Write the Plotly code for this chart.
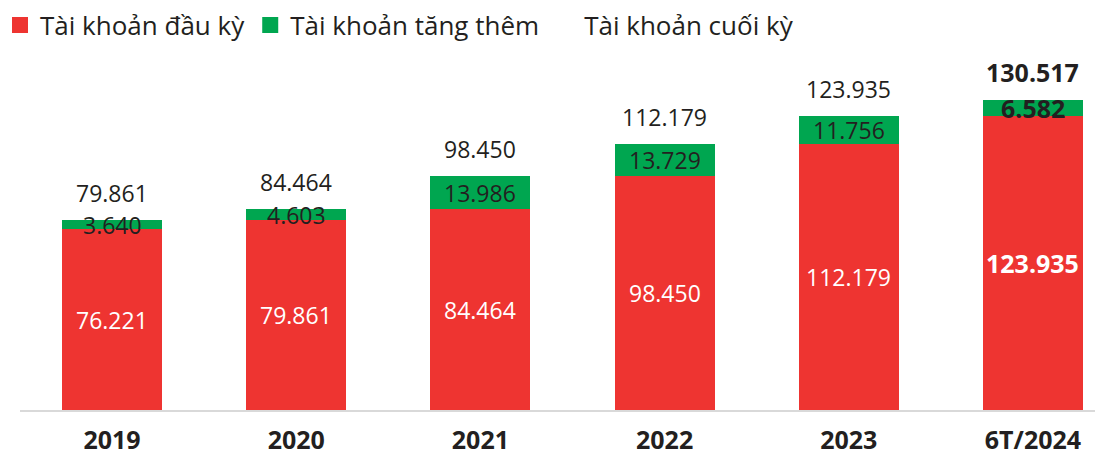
import plotly.graph_objects as go

categories = ["2019", "2020", "2021", "2022", "2023", "6T/2024"]
opening = [76221, 79861, 84464, 98450, 112179, 123935]
added = [3640, 4603, 13986, 13729, 11756, 6582]
closing = [79861, 84464, 98450, 112179, 123935, 130517]
bold_flags = [False, False, False, False, False, True]

RED = "#EE3431"
GREEN = "#00A650"
DARK = "#231F20"
FONT = "Open Sans"


def fmt(v):
    return f"{v:,}".replace(",", ".")


fig = go.Figure()
fig.add_trace(go.Bar(x=categories, y=opening, marker=dict(color=RED, line=dict(width=0)),
                     width=0.543, showlegend=False, hoverinfo="skip"))
fig.add_trace(go.Bar(x=categories, y=added, marker=dict(color=GREEN, line=dict(width=0)),
                     width=0.543, showlegend=False, hoverinfo="skip"))

# legend entries
for name, col in [("Tài khoản đầu kỳ", RED), ("Tài khoản tăng thêm", GREEN), ("Tài khoản cuối kỳ", "rgba(255,255,255,0)")]:
    fig.add_trace(go.Scatter(x=[None], y=[None], mode="markers", name=name,
                             marker=dict(symbol="square", size=16, color=col)))

ann = []
for i, (o, a, t, b) in enumerate(zip(opening, added, closing, bold_flags)):
    size = 25 if b else 23

    def lab(txt):
        return f"<b>{txt}</b>" if b else txt
    ann.append(dict(x=i, y=o / 2, text=lab(fmt(o)), showarrow=False,
                    font=dict(family=FONT, size=size, color="white"), yanchor="middle"))
    ann.append(dict(x=i, y=o + a / 2, text=lab(fmt(a)), showarrow=False,
                    font=dict(family=FONT, size=size, color=DARK), yanchor="middle"))
    ann.append(dict(x=i, y=t, text=lab(fmt(t)), showarrow=False, yshift=9,
                    font=dict(family=FONT, size=size, color=DARK), yanchor="bottom"))

fig.update_layout(
    barmode="stack",
    width=1110, height=457,
    margin=dict(l=20, r=15, t=60, b=47, autoexpand=False),
    plot_bgcolor="white", paper_bgcolor="white",
    font=dict(family=FONT, color=DARK),
    legend=dict(orientation="h", xref="container", yref="container", x=0.0, y=0.945,
                xanchor="left", yanchor="middle", traceorder="normal",
                font=dict(family=FONT, size=26, color=DARK), itemclick=False,
                bgcolor="rgba(0,0,0,0)"),
    annotations=ann,
    xaxis=dict(type="category", range=[-0.5, 5.337], showgrid=False, zeroline=False,
               showline=True, linecolor="#D9D9D9", linewidth=1.5, ticks="",
               automargin=False,
               tickfont=dict(family=FONT, size=25, color=DARK, weight="bold"),
               ticklabelstandoff=7),
    yaxis=dict(range=[0, 147400], showgrid=False, zeroline=False, showticklabels=False,
               ticks="", showline=False, automargin=False),
)

fig.write_html("out.html", config={"displayModeBar": False})

with open("out.html", encoding="utf-8") as f:
    html = f.read()
html = html.replace("<head>", "<head><style>html,body{margin:0;padding:0;overflow:hidden;}</style>", 1)
with open("out.html", "w", encoding="utf-8") as f:
    f.write(html)
